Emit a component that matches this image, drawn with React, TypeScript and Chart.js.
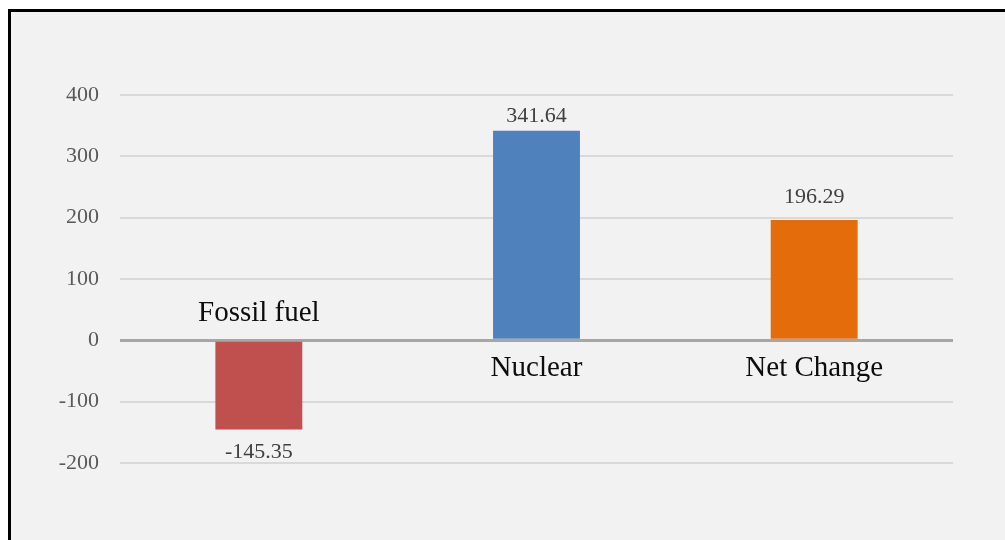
import React, { useEffect, useRef } from "react";
import { Chart, registerables } from "chart.js";

Chart.register(...registerables);

const categories = ["Fossil fuel", "Nuclear", "Net Change"];
const values = [-145.35, 341.64, 196.29];
const barColors = ["#C0504D", "#4F81BD", "#E46C0A"];
const yTicks = [-200, -100, 0, 100, 200, 300, 400];

const FONT = "'Liberation Serif', 'Times New Roman', serif";

const labelPlugin = {
  id: "customLabels",
  afterDatasetsDraw(chart: any) {
    const ctx = chart.ctx;
    const meta = chart.getDatasetMeta(0);
    const yScale = chart.scales.y;
    const zeroY = yScale.getPixelForValue(0);
    const area = chart.chartArea;
    ctx.save();
    ctx.textAlign = "center";
    ctx.textBaseline = "middle";
    meta.data.forEach((bar: any, i: number) => {
      const v = values[i];
      ctx.font = `22px ${FONT}`;
      ctx.fillStyle = "#404040";
      let ly: number;
      if (v >= 0) {
        ly = Math.max(bar.y - 23, area.top + 21);
      } else {
        ly = bar.y + 23;
      }
      ctx.fillText(v.toFixed(2), bar.x, ly);
      ctx.font = `29px ${FONT}`;
      ctx.fillStyle = "#0D0D0D";
      const cy = v >= 0 ? zeroY + 28 : zeroY - 27;
      ctx.fillText(categories[i], bar.x, cy);
    });
    ctx.restore();
  },
};

export default function App() {
  const ref = useRef<HTMLCanvasElement | null>(null);

  useEffect(() => {
    if (!ref.current) return;
    const chart = new Chart(ref.current, {
      type: "bar",
      data: {
        labels: categories,
        datasets: [
          {
            data: values,
            backgroundColor: barColors,
            barPercentage: 0.313,
            categoryPercentage: 1,
          },
        ],
      },
      options: {
        animation: false,
        responsive: false,
        maintainAspectRatio: false,
        layout: { padding: { top: 95, bottom: 77, right: 52, left: 0 } },
        plugins: {
          legend: { display: false },
          tooltip: { enabled: false },
        },
        scales: {
          x: {
            display: false,
            grid: { display: false },
          },
          y: {
            min: -200,
            max: 400,
            afterFit: (s: any) => {
              s.width = 120;
            },
            afterBuildTicks: (s: any) => {
              s.ticks = yTicks.map((v) => ({ value: v }));
            },
            border: { display: false },
            grid: {
              drawTicks: false,
              color: (c: any) => (c.tick && c.tick.value === 0 ? "#A6A6A6" : "#D9D9D9"),
              lineWidth: (c: any) => (c.tick && c.tick.value === 0 ? 3 : 2),
            },
            ticks: {
              padding: 21,
              color: "#595959",
              font: { family: FONT, size: 22 },
            },
          },
        },
      },
      plugins: [labelPlugin],
    });
    return () => chart.destroy();
  }, []);

  return (
    <div
      style={{
        position: "fixed",
        left: 0,
        top: 0,
        width: 1005,
        height: 540,
        background: "#FFFFFF",
        overflow: "hidden",
      }}
    >
      <div
        style={{
          position: "absolute",
          left: 8,
          top: 9,
          right: 0,
          bottom: 0,
          borderLeft: "3px solid #000",
          borderTop: "3px solid #000",
          background: "#F2F2F2",
        }}
      />
      <canvas
        ref={ref}
        width={1005}
        height={540}
        style={{ position: "absolute", left: 0, top: 0, width: 1005, height: 540 }}
      />
    </div>
  );
}
